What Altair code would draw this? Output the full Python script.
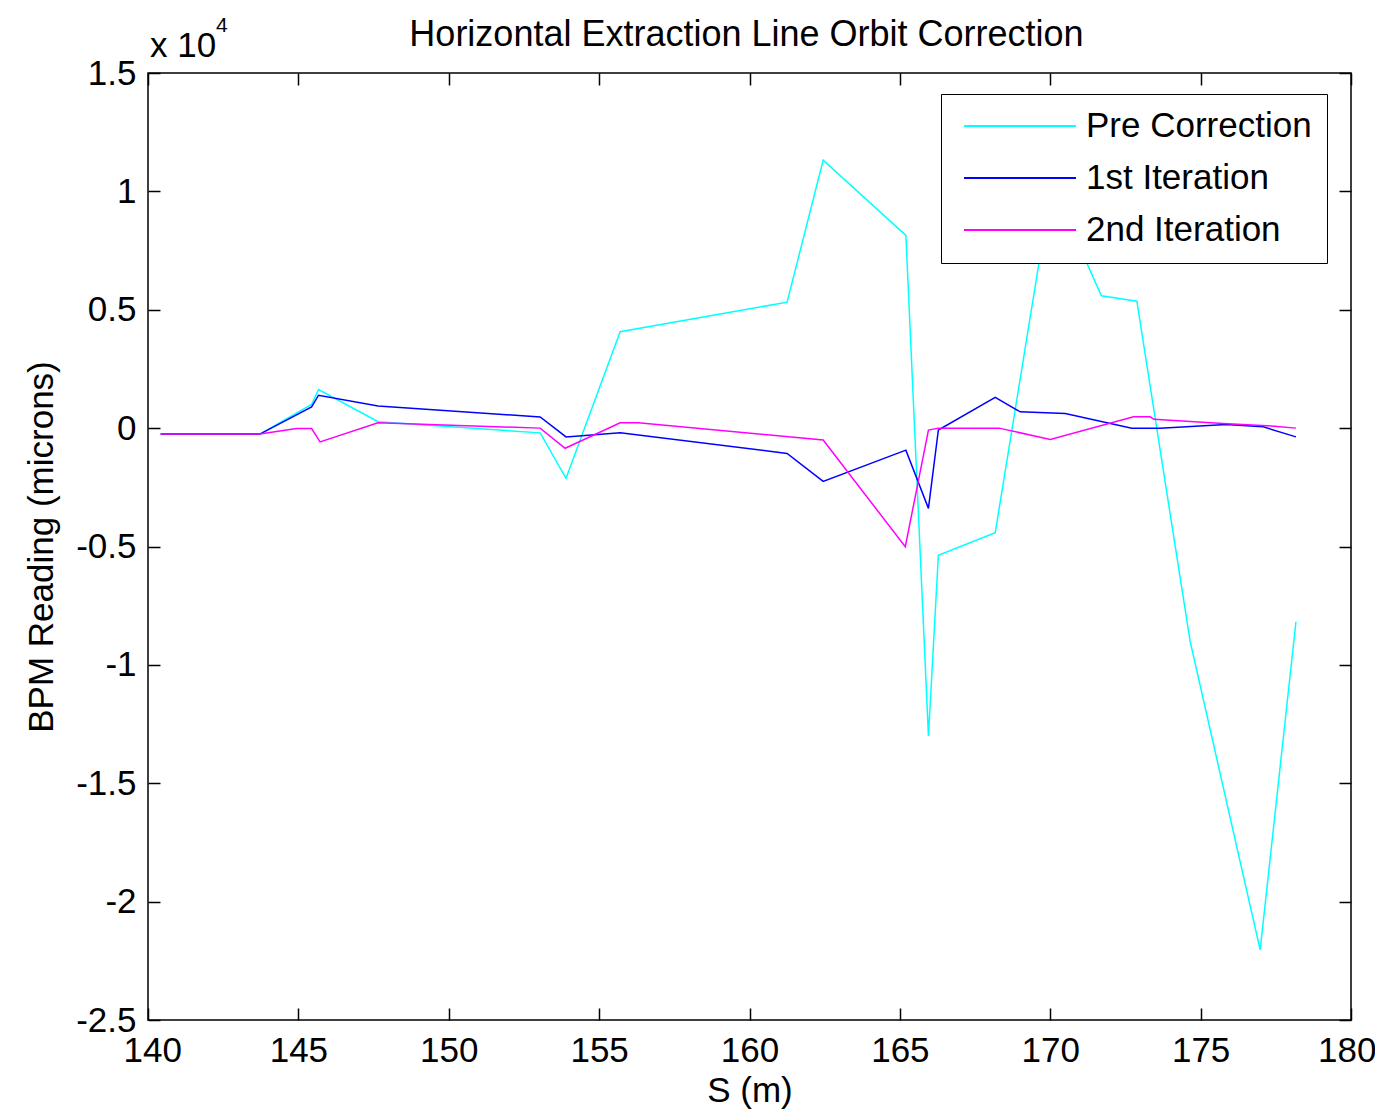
import altair as alt
import pandas as pd

# ---- data ----
series_names = ["Pre Correction", "1st Iteration", "2nd Iteration"]
series_colors = ["#00FFFF", "#0000FF", "#FF00FF"]

pre_s = [140.42, 143.72, 145.44, 145.67, 147.65, 153.04, 153.90, 155.70, 161.25, 162.45,
         165.20, 165.95, 166.28, 168.17, 170.05, 171.70, 172.88, 174.65, 176.98, 178.17]
pre_v = [-250, -250, 1000, 1630, 270, -200, -2120, 4070, 5320, 11320,
         8140, -13000, -5370, -4420, 10300, 5590, 5360, -9000, -22040, -8180]

it1_s = [140.42, 143.72, 145.44, 145.67, 147.65, 153.04, 153.90, 155.70, 161.25, 162.45,
         165.20, 165.95, 166.28, 168.17, 169.00, 170.50, 172.71, 173.65, 175.85, 177.08, 178.17]
it1_v = [-250, -250, 900, 1390, 930, 470, -370, -200, -1070, -2250,
         -930, -3390, -80, 1300, 690, 620, 0, 0, 150, 55, -370]

it2_s = [140.42, 143.72, 144.94, 145.44, 145.72, 147.65, 153.04, 153.87, 155.70, 156.30,
         162.45, 165.18, 165.95, 166.28, 168.30, 170.00, 172.77, 173.32, 173.45, 175.75,
         177.45, 178.17]
it2_v = [-250, -250, -20, -20, -580, 225, 0, -850, 225, 225,
         -500, -5010, -85, 0, 0, -480, 477, 477, 370, 200,
         80, 0]

x_ticks = [140, 145, 150, 155, 160, 165, 170, 175, 180]
y_ticks = [-25000, -20000, -15000, -10000, -5000, 0, 5000, 10000, 15000]

title_text = "Horizontal Extraction Line Orbit Correction"
exponent_base = "x 10"
exponent_power = "4"

rows = []
for name, ss, vv in zip(series_names, [pre_s, it1_s, it2_s], [pre_v, it1_v, it2_v]):
    for i, (s, v) in enumerate(zip(ss, vv)):
        rows.append({"series": name, "S": s, "BPM": v, "idx": i})
df = pd.DataFrame(rows)

W, H = 1203, 947
FONT = "Liberation Sans"
FS = 35

xscale = alt.Scale(domain=[140, 180], nice=False, zero=False)
yscale = alt.Scale(domain=[-25000, 15000], nice=False, zero=False)

base = alt.Chart(df)

lines = base.mark_line(strokeWidth=1.5, clip=True).encode(
    x=alt.X("S:Q", scale=xscale,
            axis=alt.Axis(orient="bottom", values=x_ticks, ticks=False, domain=False, grid=False,
                          title="S (m)", labelFont=FONT, titleFont=FONT, labelFontSize=FS,
                          titleFontSize=FS, labelColor="black", titleColor="black",
                          titleFontWeight="normal", labelPadding=13, titlePadding=5,
                          labelFlush=True, labelFlushOffset=25)),
    y=alt.Y("BPM:Q", scale=yscale,
            axis=alt.Axis(orient="left", values=y_ticks, labelExpr="'' + datum.value/10000",
                          ticks=False, domain=False, grid=False,
                          title="BPM Reading (microns)", labelFont=FONT, titleFont=FONT,
                          labelFontSize=FS, titleFontSize=FS, labelColor="black",
                          titleColor="black", titleFontWeight="normal", labelPadding=12,
                          titlePadding=16, labelFlush=False)),
    color=alt.Color("series:N", scale=alt.Scale(domain=series_names, range=series_colors),
                    legend=alt.Legend(title=None, orient="none", legendX=793, legendY=21,
                                      symbolType="stroke", symbolSize=12544,
                                      symbolStrokeWidth=2, symbolOffset=7,
                                      labelFont=FONT, labelFontSize=FS, labelColor="black",
                                      labelOffset=9, labelLimit=500,
                                      strokeColor="black", fillColor="white",
                                      padding=15, rowPadding=17, clipHeight=34)),
    order="idx:Q",
)

tick_style = dict(labels=False, domain=False, ticks=True, tickSize=12, tickColor="black",
                  tickWidth=1.5, grid=False, title=None)

ticks_a = base.mark_point(opacity=0).encode(
    x=alt.X("S:Q", scale=xscale, axis=alt.Axis(orient="top", offset=-H, values=x_ticks, **tick_style)),
    y=alt.Y("BPM:Q", scale=yscale, axis=alt.Axis(orient="right", offset=-W, values=y_ticks, **tick_style)),
)
ticks_b = base.mark_point(opacity=0).encode(
    x=alt.X("S:Q", scale=xscale, axis=alt.Axis(orient="bottom", offset=-H, values=x_ticks, **tick_style)),
    y=alt.Y("BPM:Q", scale=yscale, axis=alt.Axis(orient="left", offset=-W, values=y_ticks, **tick_style)),
)

title_mark = alt.Chart(pd.DataFrame({"t": [title_text]})).mark_text(
    align="center", baseline="alphabetic", font=FONT, fontSize=36, color="black"
).encode(text="t:N", x=alt.value(W / 2 - 3), y=alt.value(-27))
exp_base = alt.Chart(pd.DataFrame({"t": [exponent_base]})).mark_text(
    align="left", baseline="alphabetic", font=FONT, fontSize=FS, color="black"
).encode(text="t:N", x=alt.value(2), y=alt.value(-16))
exp_sup = alt.Chart(pd.DataFrame({"t": [exponent_power]})).mark_text(
    align="left", baseline="alphabetic", font=FONT, fontSize=21, color="black"
).encode(text="t:N", x=alt.value(68), y=alt.value(-41))

chart = alt.layer(lines, ticks_a, ticks_b, title_mark, exp_base, exp_sup).resolve_axis(
    x="independent", y="independent"
).properties(
    width=W, height=H,
    autosize=alt.AutoSizeParams(type="none"),
    padding={"left": 140, "top": 65, "right": 24, "bottom": 89},
).configure_view(stroke="black", strokeWidth=1.5)

chart.save("out.html", embed_options={"renderer": "svg", "actions": False})
